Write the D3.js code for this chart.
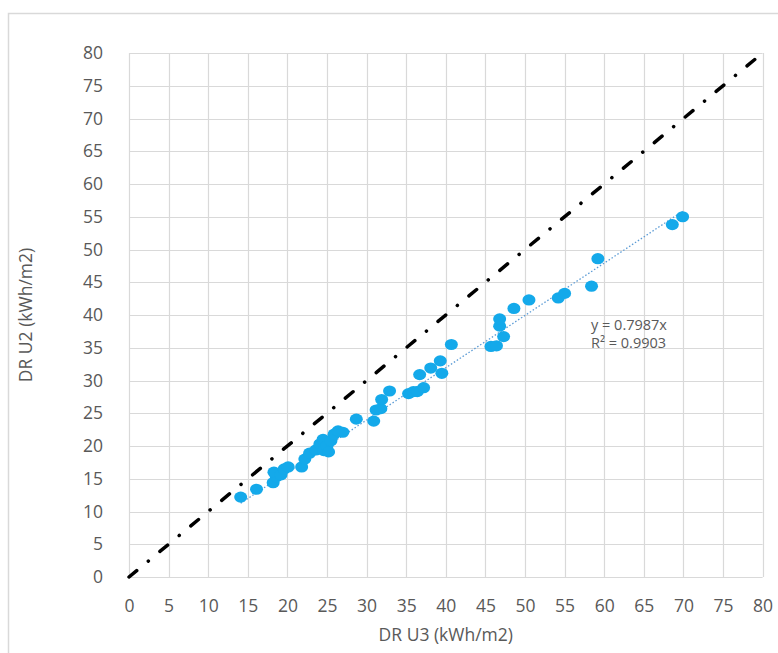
<!DOCTYPE html>
<html>
<head>
<meta charset="utf-8">
<script src="https://cdn.jsdelivr.net/npm/d3@7"></script>
<style>
  html, body { margin: 0; padding: 0; background: #fff; }
  svg { display: block; font-family: "Open Sans", "Noto Sans", sans-serif; }
</style>
</head>
<body>
<svg id="chart" width="778" height="653"></svg>
<script>
// Measured annual values: DR U3 (x) against DR U2 (y), kWh/m2
const drU3 = [14.1, 16.1, 18.2, 18.6, 18.3, 19.2, 19.6, 20.1,
  21.8, 22.2, 22.8, 23.6, 24.1, 24.6, 24.5, 25.0, 25.2, 25.5, 25.9, 26.4, 27.0,
  28.7, 30.9, 31.2, 31.8, 31.9, 32.9, 35.3, 35.9, 36.4, 37.2, 36.7, 38.1, 39.5, 39.3, 40.7,
  45.7, 46.4, 47.3, 46.8, 46.8, 48.6, 50.5, 54.2, 55.0, 58.4, 59.2, 68.6, 69.9];
const drU2 = [12.2, 13.4, 14.4, 15.3, 16.0, 15.6, 16.5, 16.8,
  16.8, 18.0, 18.9, 19.4, 20.3, 19.3, 21.0, 20.0, 19.1, 20.8, 21.8, 22.3, 22.1,
  24.1, 23.8, 25.5, 25.7, 27.1, 28.4, 28.0, 28.3, 28.3, 28.9, 30.9, 31.9, 31.1, 33.0, 35.5,
  35.2, 35.3, 36.7, 38.3, 39.4, 41.0, 42.3, 42.6, 43.3, 44.4, 48.6, 53.8, 55.0];

// Axis ticks (both axes share 0–80 in steps of 5)
const ticks = [0, 5, 10, 15, 20, 25, 30, 35, 40, 45, 50, 55, 60, 65, 70, 75, 80];

// Linear fit through the origin
const slope = 0.7987;
const rSquared = 0.9903;

const xTitle = "DR U3 (kWh/m2)";
const yTitle = "DR U2 (kWh/m2)";

const svg = d3.select("#chart");

const plot = { left: 129, right: 762.6, top: 53, bottom: 577 };

const x = d3.scaleLinear().domain([0, 80]).range([plot.left, plot.right]);
const y = d3.scaleLinear().domain([0, 80]).range([plot.bottom, plot.top]);

// Chart frame (left and top edges)
svg.append("path")
  .attr("d", "M8.5,653V13.5H778")
  .attr("fill", "none")
  .attr("stroke", "#d9d9d9")
  .attr("stroke-width", 1.5);

// Gridlines
const grid = svg.append("g").attr("class", "grid");
grid.selectAll("line.v").data(ticks).join("line")
  .attr("class", "v")
  .attr("x1", d => Math.round(x(d)) + 0.5).attr("x2", d => Math.round(x(d)) + 0.5)
  .attr("y1", y(80)).attr("y2", y(0))
  .attr("stroke", "#d9d9d9").attr("stroke-width", 1.2);
grid.selectAll("line.h").data(ticks).join("line")
  .attr("class", "h")
  .attr("y1", d => Math.round(y(d)) + 0.5).attr("y2", d => Math.round(y(d)) + 0.5)
  .attr("x1", x(0)).attr("x2", x(80))
  .attr("stroke", "#d9d9d9").attr("stroke-width", 1.2);

// Axes (labels only; the frame comes from the gridlines)
const xAxis = svg.append("g")
  .attr("transform", `translate(0,${y(0)})`)
  .call(d3.axisBottom(x).tickValues(ticks).tickSize(0).tickPadding(23));
const yAxis = svg.append("g")
  .attr("transform", `translate(${x(0)},0)`)
  .call(d3.axisLeft(y).tickValues(ticks).tickSize(0).tickPadding(26));
[xAxis, yAxis].forEach(a => {
  a.select(".domain").remove();
  a.selectAll("text")
    .attr("fill", "#595959")
    .style("font-size", "17.5px")
    .style("font-family", "'Open Sans', sans-serif");
});

// y = x reference line (dash-dot)
svg.append("line")
  .attr("x1", x(0)).attr("y1", y(0))
  .attr("x2", x(80)).attr("y2", y(80))
  .attr("stroke", "#000")
  .attr("stroke-width", 3.5)
  .attr("stroke-linecap", "round")
  .attr("stroke-dasharray", "10,15,0.1,15");

// Trendline over the data range
const xMin = d3.min(drU3), xMax = d3.max(drU3);
svg.append("line")
  .attr("x1", x(xMin)).attr("y1", y(slope * xMin))
  .attr("x2", x(xMax)).attr("y2", y(slope * xMax))
  .attr("stroke", "#5b9bd5")
  .attr("stroke-width", 1.3)
  .attr("stroke-dasharray", "1.5,2");

// Data points
svg.append("g").selectAll("ellipse")
  .data(drU3.map((d, i) => [d, drU2[i]]))
  .join("ellipse")
  .attr("cx", d => x(d[0]))
  .attr("cy", d => y(d[1]))
  .attr("rx", 6.5).attr("ry", 5.6)
  .attr("fill", "#14a9ea");

// Fit equation
const eq = svg.append("g").attr("fill", "#595959")
  .style("font-size", "14.5px");
eq.append("text").attr("x", 591).attr("y", 330).text(`y = ${slope}x`);
eq.append("text").attr("x", 591).attr("y", 348).text(`R² = ${rSquared}`);

// Axis titles
svg.append("text")
  .attr("x", (plot.left + plot.right) / 2).attr("y", 641)
  .attr("text-anchor", "middle")
  .attr("fill", "#595959")
  .style("font-size", "17.5px")
  .text(xTitle);
svg.append("text")
  .attr("transform", `translate(32,${315}) rotate(-90)`)
  .attr("text-anchor", "middle")
  .attr("fill", "#595959")
  .style("font-size", "17.5px")
  .text(yTitle);
</script>
</body>
</html>
